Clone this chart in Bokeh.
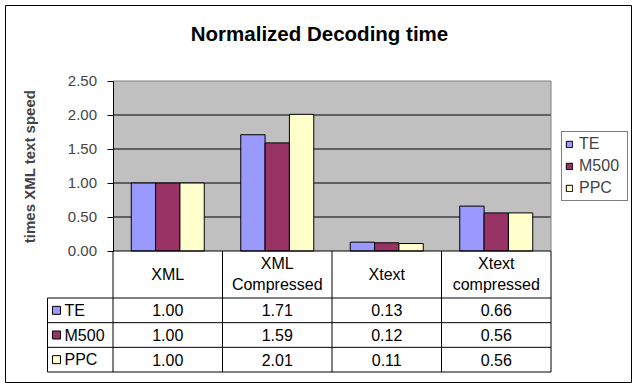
import numpy as np
from bokeh.plotting import figure
from bokeh.models import (Range1d, LinearAxis, FixedTicker, NumeralTickFormatter,
                          Legend, LegendItem)
from bokeh.core.properties import value
from bokeh.embed import file_html
from bokeh.resources import INLINE

# ---------------- data ----------------
title = "Normalized Decoding time"
y_title = "times XML text speed"
categories = ["XML", "XML\nCompressed", "Xtext", "Xtext\ncompressed"]
series = ["TE", "M500", "PPC"]
te = [1.00, 1.71, 0.13, 0.66]
m500 = [1.00, 1.59, 0.12, 0.56]
ppc = [1.00, 2.01, 0.11, 0.56]
y_ticks = [0.0, 0.5, 1.0, 1.5, 2.0, 2.5]
colors = ["#9999FF", "#993366", "#FFFFCC"]

values = [te, m500, ppc]
FONT = "Liberation Sans"

# ---------------- geometry (reference pixels -> data) ----------------
X0, COL = 112.5, 109.5          # pixel of category start, pixel width of category
Y0, UNIT = 250.5, 68.0          # pixel of value 0, pixels per value unit
T0, ROW = 371.5, (371.5 - 297.5) / 3   # table bottom pixel, pixels per table row
LEFT, TOP, W, H = 5, 5, 627, 378


def dx(px):
    return (px - X0) / COL


def dy(py):
    return (Y0 - py) / UNIT


def dt(py):
    return (T0 - py) / ROW


ncat = len(categories)
nser = len(series)

p = figure(width=W, height=H, output_backend="svg", toolbar_location=None,
           x_range=Range1d(dx(LEFT), dx(LEFT + W)),
           y_range=Range1d(dy(TOP + H), dy(TOP)),
           x_axis_location=None, y_axis_location=None,
           min_border=0, margin=(5, 0, 0, 5))
p.extra_y_ranges = {"table": Range1d(dt(TOP + H), dt(TOP))}
p.background_fill_color = "white"
p.border_fill_color = "white"
p.outline_line_color = "black"
p.outline_line_width = 1
p.xgrid.visible = False
p.ygrid.visible = False

# ---------------- title ----------------
p.text(x=[dx(319)], y=[dy(33)], text=[title], text_align="center",
       text_baseline="middle", text_font=value(FONT), text_font_size="20.5px",
       text_font_style="bold", text_color="black")

# ---------------- plot area ----------------
ymax = y_ticks[-1]
p.quad(left=[0], right=[ncat], bottom=[0], top=[ymax], fill_color="#C0C0C0",
       line_color=None)
p.segment(x0=[0] * (len(y_ticks) - 2), x1=[ncat] * (len(y_ticks) - 2),
          y0=y_ticks[1:-1], y1=y_ticks[1:-1], line_color="black", line_width=1)
p.segment(x0=[0, ncat], x1=[ncat, ncat], y0=[ymax, 0], y1=[ymax, ymax],
          line_color="#808080", line_width=1)

# ---------------- bars ----------------
bw = 1 / 4.5
centers = np.arange(ncat) + 0.5
renderers = []
for i, (vals, c) in enumerate(zip(values, colors)):
    off = (i - (nser - 1) / 2) * bw
    r = p.vbar(x=centers + off, top=vals, bottom=0, width=bw, fill_color=c,
               line_color="black", line_width=1)
    renderers.append(r)

# ---------------- y axis ----------------
yaxis = LinearAxis(fixed_location=0, bounds=(0, ymax),
                   ticker=FixedTicker(ticks=y_ticks),
                   formatter=NumeralTickFormatter(format="0.00"))
yaxis.major_tick_out = 6
yaxis.major_tick_in = 0
yaxis.minor_tick_line_color = None
yaxis.axis_line_color = "black"
yaxis.major_label_text_font = FONT
yaxis.major_label_text_font_size = "15px"
yaxis.major_label_standoff = 10
yaxis.axis_label = y_title
yaxis.axis_label_text_font = FONT
yaxis.axis_label_text_font_size = "15px"
yaxis.axis_label_text_font_style = "bold"
yaxis.axis_label_standoff = 27
p.add_layout(yaxis, "left")

# ---------------- data table ----------------
key_left = dx(47)
nrows = nser
header_top = dt(Y0)
# horizontal lines of data rows
p.segment(x0=[key_left] * (nrows + 1), x1=[ncat] * (nrows + 1),
          y0=list(range(nrows + 1)), y1=list(range(nrows + 1)),
          line_color="black", y_range_name="table")
# table top (value 0 line)
p.segment(x0=[0], x1=[ncat], y0=[0], y1=[0], line_color="black")
# vertical lines
p.segment(x0=list(range(ncat + 1)), x1=list(range(ncat + 1)),
          y0=[0] * (ncat + 1), y1=[header_top] * (ncat + 1),
          line_color="black", y_range_name="table")
p.segment(x0=[key_left], x1=[key_left], y0=[0], y1=[nrows],
          line_color="black", y_range_name="table")

# header texts
p.text(x=centers, y=[dt(273.5)] * ncat, text=categories, text_align="center",
       text_baseline="middle", text_font=value(FONT), text_font_size="16px",
       text_color="black", y_range_name="table")

# row keys and values
row_y = [nrows - 0.5 - i for i in range(nrows)]
p.scatter(x=[dx(56)] * nrows, y=row_y, marker="square", size=8,
          fill_color=colors, line_color="black", line_width=1,
          y_range_name="table")
p.text(x=[dx(64)] * nrows, y=row_y, text=series, text_align="left",
       text_baseline="middle", text_font=value(FONT), text_font_size="16px",
       text_color="black", y_range_name="table")
for i, vals in enumerate(values):
    p.text(x=centers, y=[row_y[i]] * ncat, text=["%.2f" % v for v in vals],
           text_align="center", text_baseline="middle", text_font=value(FONT),
           text_font_size="16px", text_color="black", y_range_name="table")

# ---------------- legend ----------------
legend = Legend(items=[LegendItem(label=s, renderers=[r]) for s, r in zip(series, renderers)],
                location=(556, 182))
legend.border_line_color = "black"
legend.border_line_width = 1
legend.background_fill_color = "white"
legend.background_fill_alpha = 1
legend.label_text_font = FONT
legend.label_text_font_size = "16px"
legend.glyph_width = 8
legend.glyph_height = 8
legend.label_height = 17
legend.label_width = 45
legend.label_standoff = 6
legend.spacing = 4
legend.padding = 3
legend.margin = 0
p.add_layout(legend)

open("out.html", "w").write(file_html(p, INLINE))
